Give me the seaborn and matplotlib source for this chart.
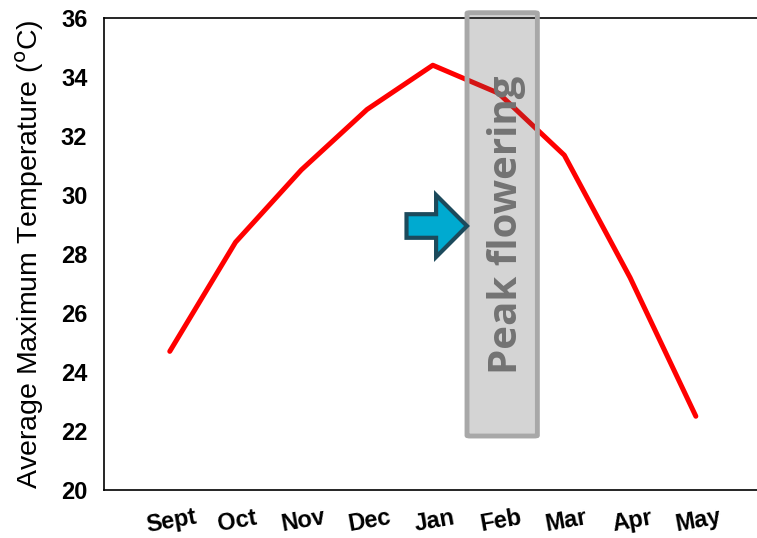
import matplotlib
matplotlib.use("Agg")
import matplotlib.pyplot as plt
import matplotlib.patches as mpatches
import seaborn as sns
import pandas as pd

months = ["Sept", "Oct", "Nov", "Dec", "Jan", "Feb", "Mar", "Apr", "May"]
temps = [24.7, 28.4, 30.85, 32.9, 34.4, 33.45, 31.35, 27.2, 22.5]
yticks = [20, 22, 24, 26, 28, 30, 32, 34, 36]

sns.set_style("white")
plt.rcParams['font.family'] = ['Liberation Sans', 'DejaVu Sans']
plt.rcParams['text.color'] = 'black'
plt.rcParams['axes.labelcolor'] = 'black'
plt.rcParams['xtick.color'] = 'black'
plt.rcParams['ytick.color'] = 'black'

fig = plt.figure(figsize=(7.57, 5.38), dpi=100)
ax = fig.add_axes([0.1374, 0.0892, 0.8626, 0.8773])

df = pd.DataFrame({"pos": range(len(months)), "temp": temps})
sns.lineplot(data=df, x="pos", y="temp", ax=ax, color="#ff0000", linewidth=3.6,
             solid_joinstyle="round", solid_capstyle="round")

ax.set_xlim(-1, 8.93)
ax.set_ylim(20, 36)
ax.set_yticks(yticks)
ax.set_yticklabels([str(v) for v in yticks], fontsize=17, fontweight="bold", color="black")
ax.set_xticks(range(len(months)))
ax.set_xticklabels(months, fontsize=17, fontweight="bold", rotation=10,
                   rotation_mode="anchor", ha="center", va="top", color="black")
ax.tick_params(axis="x", direction="out", length=5, width=1, pad=9, color="black")
ax.tick_params(axis="y", direction="out", length=6, width=1, pad=6, color="black")
ax.set_xlabel("")
ax.set_ylabel("Average Maximum Temperature ($^{\\mathrm{o}}$C)", fontsize=20.5,
              labelpad=11, color="black")

for s in ["left", "bottom", "top"]:
    ax.spines[s].set_visible(True)
    ax.spines[s].set_color("black")
    ax.spines[s].set_linewidth(1.2)
ax.spines["right"].set_visible(False)

# peak flowering box
rect = mpatches.FancyBboxPatch((4.52, 21.83), 1.07, 14.35,
                               boxstyle="round,pad=0,rounding_size=0.05",
                               facecolor=(0.33, 0.33, 0.33, 0.25),
                               edgecolor="#a8a8a8",
                               linewidth=3.5, zorder=5, clip_on=False,
                               mutation_aspect=0.45)
ax.add_patch(rect)
ax.text(5.12, 29.0, "Peak flowering", rotation=90, ha="center", va="center",
        fontsize=29, fontweight="bold", color="#737373", family="Open Sans",
        zorder=6)

# arrow
arrow = mpatches.FancyArrow(3.6, 28.95, 0.92, 0, width=0.8, head_width=2.1,
                            head_length=0.47, length_includes_head=True,
                            facecolor="#00aad0", edgecolor="#1c4a5c",
                            linewidth=3, zorder=7)
ax.add_patch(arrow)

fig.savefig("out.png", dpi=100)
